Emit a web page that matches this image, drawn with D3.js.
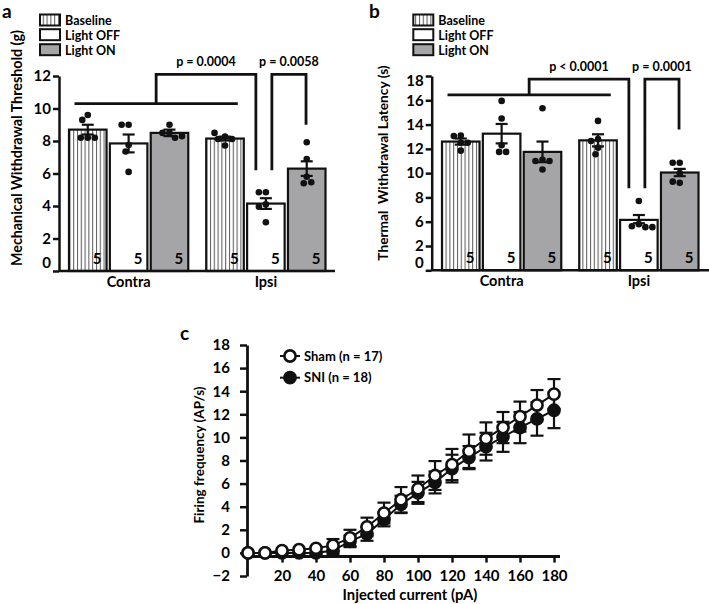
<!DOCTYPE html>
<html>
<head>
<meta charset="utf-8">
<script src="https://cdn.jsdelivr.net/npm/d3@7"></script>
<style>
  body { margin: 0; background: #fff; }
  svg { display: block; }
  text { font-family: Lato, "Open Sans", sans-serif; font-weight: bold; fill: #000; }
</style>
</head>
<body>
<svg id="chart" width="709" height="604"></svg>
<script>
// ---------------- DATA ----------------
const groups = ["Contra", "Ipsi"];
const conditions = ["Baseline", "Light OFF", "Light ON"];
const nPerBar = [5, 5, 5];

// Panel a: Mechanical withdrawal threshold (g)
const mechTicks = [0, 2, 4, 6, 8, 10, 12];
const mechMeanContra = [8.7, 7.85, 8.5];
const mechMeanIpsi = [8.15, 4.15, 6.3];
const mechSemContra = [0.3, 0.55, 0.2];
const mechSemIpsi = [0.12, 0.33, 0.45];
const mechDotsContra = [[9.6, 9.3, 8.2, 8.2, 8.2], [9.0, 9.0, 7.75, 7.35, 6.1], [9.0, 8.5, 8.5, 8.2, 8.3]];
const mechDotsIpsi = [[8.27, 7.72, 8.12, 8.12, 8.5], [4.85, 4.85, 4.1, 3.95, 3.0], [7.92, 6.89, 5.8, 5.4, 5.46]];
const mechPLabels = ["p = 0.0004", "p = 0.0058"];

// Panel b: Thermal withdrawal latency (s)
const thermTicks = [0, 2, 6, 8, 10, 12, 14, 16, 18];
const thermMeanContra = [12.6, 13.25, 11.75];
const thermMeanIpsi = [12.7, 6.15, 10.05];
const thermSemContra = [0.25, 0.8, 0.85];
const thermSemIpsi = [0.5, 0.4, 0.3];
const thermDotsContra = [[13.1, 13.05, 12.5, 12.5, 11.85], [15.95, 14.5, 12.3, 11.75, 11.75], [15.35, 11.1, 11.0, 11.0, 10.3]];
const thermDotsIpsi = [[14.3, 12.8, 12.65, 12.1, 11.55], [7.7, 5.6, 5.25, 5.1, 5.1], [10.85, 10.85, 9.2, 9.3, 10.0]];
const thermPLabels = ["p < 0.0001", "p = 0.0001"];

// Panel c: Firing frequency vs injected current
const currents = [0, 10, 20, 30, 40, 50, 60, 70, 80, 90, 100, 110, 120, 130, 140, 150, 160, 170, 180];
const shamMean = [0, 0, 0.2, 0.28, 0.4, 0.65, 1.3, 2.25, 3.45, 4.6, 5.55, 6.7, 7.65, 8.8, 9.9, 10.85, 11.8, 12.8, 13.75];
const shamSem  = [0, 0, 0.1, 0.1, 0.15, 0.55, 0.7, 0.8, 0.9, 1.1, 1.15, 1.25, 1.35, 1.45, 1.4, 1.35, 1.3, 1.3, 1.3];
const sniMean  = [0, 0, 0, 0, 0, 0.2, 1.0, 1.65, 2.9, 4.2, 5.2, 6.1, 7.3, 8.25, 9.2, 10.05, 10.85, 11.6, 12.35];
const sniSem   = [0, 0, 0, 0, 0, 0.3, 0.5, 0.6, 0.6, 0.75, 0.95, 0.95, 1.2, 1.0, 1.2, 1.3, 1.35, 1.45, 1.55];
const cXTicks = [20, 40, 60, 80, 100, 120, 140, 160, 180];
const cYTicks = [-2, 0, 2, 4, 6, 8, 10, 12, 14, 16, 18];
const seriesNames = ["Sham (n = 17)", "SNI (n = 18)"];

// ---------------- DRAWING ----------------
const svg = d3.select("#chart");
svg.append("rect").attr("width", 709).attr("height", 604).attr("fill", "#fff");
const defs = svg.append("defs");
const pat = defs.append("pattern").attr("id", "vstripe")
  .attr("patternUnits", "userSpaceOnUse").attr("width", 3.8).attr("height", 10);
pat.append("rect").attr("width", 3.8).attr("height", 10).attr("fill", "#fff");
pat.append("line").attr("x1", 1.5).attr("x2", 1.5).attr("y1", 0).attr("y2", 10)
  .attr("stroke", "#555").attr("stroke-width", 1);

const fills = ["url(#vstripe)", "#ffffff", "#a5a5a8"];
const INK = "#111";

function swarm(values, y, cx, minDist) {
  const placed = [];
  values.forEach(v => {
    const py = y(v);
    let off = 0;
    outer:
    for (let k = 0; k <= 60; k++) {
      const cands = k === 0 ? [0] : [-k * 0.5, k * 0.5];
      for (const s of cands) {
        if (placed.every(p => Math.hypot(p.x - (cx + s), p.y - py) >= minDist)) { off = s; break outer; }
      }
    }
    placed.push({ x: cx + off, y: py });
  });
  return placed;
}

function barPanel(cfg) {
  const { y, xRange, axisX, axisEnd, ticks, means, sems, dots, sig, pLabels, legendX, ylabel, ylabelX, ylabelY,
          ylabelSize, letter, letterX, topShift } = cfg;
  const g = svg.append("g");
  const gx = d3.scaleBand().domain(groups).range(xRange).paddingInner(0.131);
  const cxs = d3.scaleBand().domain(conditions).range([0, gx.bandwidth()]).paddingInner(0.081);
  const bw = cxs.bandwidth();
  const barX = (gi, ci) => gx(groups[gi]) + cxs(conditions[ci]);

  // bars
  groups.forEach((grp, gi) => {
    conditions.forEach((cond, ci) => {
      const x = barX(gi, ci);
      const m = means[gi][ci];
      g.append("rect").attr("x", x).attr("y", y(m)).attr("width", bw).attr("height", y(0) - y(m))
        .attr("fill", fills[ci]).attr("stroke", INK).attr("stroke-width", 2.2);
      g.append("text").attr("x", x + bw - 5).attr("y", y(0) - 7).attr("text-anchor", "end")
        .attr("font-size", 15).text(nPerBar[ci]);
    });
  });
  // error bars + dots
  groups.forEach((grp, gi) => {
    conditions.forEach((cond, ci) => {
      const xc = barX(gi, ci) + bw / 2;
      const m = means[gi][ci], s = sems[gi][ci];
      const eb = g.append("g").attr("stroke", INK).attr("stroke-width", 2.2);
      eb.append("line").attr("x1", xc).attr("x2", xc).attr("y1", y(m - s)).attr("y2", y(m + s));
      [m - s, m + s].forEach(v => eb.append("line").attr("x1", xc - 6).attr("x2", xc + 6).attr("y1", y(v)).attr("y2", y(v)));
      swarm(dots[gi][ci], y, xc, 7).forEach(p => {
        g.append("circle").attr("cx", p.x).attr("cy", p.y).attr("r", 3.3).attr("fill", INK);
      });
    });
  });

  // y axis
  const ya = g.append("g").attr("transform", `translate(${axisX},0)`)
    .call(d3.axisLeft(y).tickValues(ticks).tickSize(6).tickPadding(2).tickSizeOuter(0));
  ya.select(".domain").attr("stroke", INK).attr("stroke-width", 2.5);
  ya.selectAll(".tick line").attr("stroke", INK).attr("stroke-width", 2.5);
  ya.selectAll(".tick text").attr("font-size", 15).attr("font-family", "Lato").attr("font-weight", "bold").attr("fill", "#000");
  ya.selectAll(".tick text").filter(d => d === 0).attr("transform", "translate(0,-8)");
  ya.selectAll(".tick text").filter(d => d === ticks[ticks.length - 1]).attr("transform", `translate(0,${topShift})`);

  // x axis line
  g.append("line").attr("x1", axisX).attr("x2", axisEnd).attr("y1", y(0)).attr("y2", y(0))
    .attr("stroke", INK).attr("stroke-width", 2.5);
  groups.forEach(grp => {
    g.append("text").attr("x", gx(grp) + gx.bandwidth() / 2).attr("y", y(0) + 15.5)
      .attr("text-anchor", "middle").attr("font-size", 14.5).text(grp);
  });

  // significance brackets
  const hx0 = barX(0, 0) + 5.5, hx1 = barX(1, 0) + bw - 6;
  const legA = (hx0 + hx1) / 2;
  const offC = barX(1, 1) + bw / 2;
  const onC = barX(1, 2) + bw / 2;
  const legB = offC - 10, legC = offC + 6, legD = onC - 0.7;
  const sg = g.append("g").attr("stroke", INK).attr("stroke-width", 2.8).attr("fill", "none");
  sg.append("line").attr("x1", hx0).attr("x2", hx1).attr("y1", y(sig.hline)).attr("y2", y(sig.hline));
  sg.append("path").attr("d", `M${legA},${y(sig.hline)}V${y(sig.top)}H${legB}V${y(sig.leg1)}`);
  sg.append("path").attr("d", `M${legC},${y(sig.leg1)}V${y(sig.top)}H${legD}V${y(sig.leg2)}`);
  g.append("text").attr("x", (legA + legB) / 2).attr("y", y(sig.top) - sig.pGap).attr("text-anchor", "middle")
    .attr("font-size", 12.5).text(pLabels[0]);
  g.append("text").attr("x", (legC + legD) / 2).attr("y", y(sig.top) - sig.pGap).attr("text-anchor", "middle")
    .attr("font-size", 12.5).text(pLabels[1]);

  // legend
  const rows = [20, 34.7, 49.7];
  conditions.forEach((cond, i) => {
    g.append("rect").attr("x", legendX).attr("y", rows[i] - 5.5).attr("width", 20).attr("height", 11)
      .attr("fill", fills[i]).attr("stroke", INK).attr("stroke-width", 2);
    g.append("text").attr("x", legendX + 25).attr("y", rows[i] + 4.8).attr("font-size", 12.5).text(cond);
  });

  // y label
  g.append("text").attr("transform", `translate(${ylabelX},${ylabelY}) rotate(-90)`)
    .attr("text-anchor", "middle").attr("font-size", ylabelSize).style("white-space", "pre").text(ylabel);
  // panel letter
  g.append("text").attr("x", letterX).attr("y", 18).attr("font-size", 19).text(letter);
}

// Panel a
barPanel({
  y: d3.scaleLinear().domain([0, 12]).range([271, 76]),
  xRange: [69, 325.5], axisX: 59, axisEnd: 335, ticks: mechTicks,
  means: [mechMeanContra, mechMeanIpsi], sems: [mechSemContra, mechSemIpsi],
  dots: [mechDotsContra, mechDotsIpsi],
  sig: { hline: 10.3, top: 12.1, leg1: 6.2, leg2: 9.0, pGap: 8 },
  pLabels: mechPLabels, legendX: 40,
  ylabel: "Mechanical Withdrawal Threshold (g)", ylabelX: 22, ylabelY: 148, ylabelSize: 14.3,
  letter: "a", letterX: 2, topShift: 0
});

// Panel b
barPanel({
  y: d3.scaleLinear().domain([0, 2, 6, 18]).range([270.3, 246, 221.7, 76]),
  xRange: [442, 698.5], axisX: 431.7, axisEnd: 709, ticks: thermTicks,
  means: [thermMeanContra, thermMeanIpsi], sems: [thermSemContra, thermSemIpsi],
  dots: [thermDotsContra, thermDotsIpsi],
  sig: { hline: 16.45, top: 17.75, leg1: 8.75, leg2: 13.6, pGap: 8.5 },
  pLabels: thermPLabels, legendX: 413.3,
  ylabel: "Thermal  Withdrawal Latency (s)", ylabelX: 388, ylabelY: 163, ylabelSize: 13.7,
  letter: "b", letterX: 369, topShift: 5
});

// Panel c
(function () {
  const g = svg.append("g");
  const x = d3.scaleLinear().domain([0, 180]).range([248, 554]);
  const y = d3.scaleLinear().domain([-2, 18]).range([576, 345]);
  const xAxisY = y(-0.32);

  // y axis
  const ya = g.append("g").attr("transform", `translate(247,0)`)
    .call(d3.axisLeft(y).tickValues(cYTicks).tickSize(7).tickPadding(10).tickSizeOuter(0));
  ya.select(".domain").attr("stroke", INK).attr("stroke-width", 2.8);
  ya.selectAll(".tick line").attr("stroke", INK).attr("stroke-width", 2.5);
  ya.selectAll(".tick text").attr("font-size", 15).attr("font-family", "Lato").attr("font-weight", "bold").attr("fill", "#000");

  // x axis
  const xa = g.append("g").attr("transform", `translate(0,${xAxisY})`)
    .call(d3.axisBottom(x).tickValues(cXTicks).tickSize(6).tickPadding(8).tickSizeOuter(0));
  xa.select(".domain").attr("stroke", INK).attr("stroke-width", 3).attr("d", `M${x(0) - 1},0H${x(180) + 6}`);
  xa.selectAll(".tick line").attr("stroke", INK).attr("stroke-width", 2.5);
  xa.selectAll(".tick text").attr("font-size", 15).attr("font-family", "Lato").attr("font-weight", "bold").attr("fill", "#000");

  const line = d3.line().x((d, i) => x(currents[i])).y(d => y(d));
  function series(means, sems, filled) {
    const sgp = g.append("g");
    sgp.append("path").datum(means).attr("d", line).attr("fill", "none").attr("stroke", INK).attr("stroke-width", 2);
    means.forEach((m, i) => {
      const s = sems[i];
      if (s <= 0.2) return;
      const xc = x(currents[i]);
      const eb = sgp.append("g").attr("stroke", INK).attr("stroke-width", 2.2);
      eb.append("line").attr("x1", xc).attr("x2", xc).attr("y1", y(m - s)).attr("y2", y(m + s));
      [m - s, m + s].forEach(v => eb.append("line").attr("x1", xc - 6.5).attr("x2", xc + 6.5).attr("y1", y(v)).attr("y2", y(v)));
    });
    means.forEach((m, i) => {
      sgp.append("circle").attr("cx", x(currents[i])).attr("cy", y(m)).attr("r", 5.6)
        .attr("fill", filled ? INK : "#fff").attr("stroke", INK).attr("stroke-width", 2.6);
    });
  }
  series(sniMean, sniSem, true);
  series(shamMean, shamSem, false);

  // legend
  const rows = [356, 377.7];
  seriesNames.forEach((name, i) => {
    g.append("line").attr("x1", 280).attr("x2", 300).attr("y1", rows[i]).attr("y2", rows[i])
      .attr("stroke", INK).attr("stroke-width", 2);
    g.append("circle").attr("cx", 290).attr("cy", rows[i]).attr("r", 5.6)
      .attr("fill", i === 0 ? "#fff" : INK).attr("stroke", INK).attr("stroke-width", 2.6);
    g.append("text").attr("x", 304).attr("y", rows[i] + 4.5).attr("font-size", 13).text(name);
  });

  // axis titles
  g.append("text").attr("x", 410).attr("y", 600).attr("text-anchor", "middle").attr("font-size", 14.8)
    .text("Injected current (pA)");
  g.append("text").attr("transform", "translate(204,455) rotate(-90)").attr("text-anchor", "middle")
    .attr("font-size", 13.5).text("Firing frequency (AP/s)");
  g.append("text").attr("x", 180).attr("y", 340).attr("font-size", 19).text("c");
})();
</script>
</body>
</html>
